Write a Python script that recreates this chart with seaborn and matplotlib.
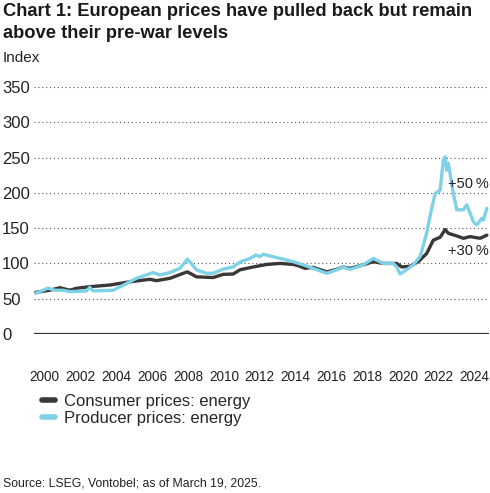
import numpy as np
import pandas as pd
import matplotlib
matplotlib.use("Agg")
import matplotlib.pyplot as plt
import seaborn as sns
from matplotlib.lines import Line2D

# ---- data ----
cons_t = [2000.0, 2000.78, 2001.34, 2001.9, 2002.27, 2003.0, 2004.13, 2005.25, 2006.37, 2006.74,
          2007.5, 2008.23, 2008.47, 2008.97, 2009.9, 2010.46, 2011.02, 2011.4, 2012.14, 2012.89,
          2013.63, 2014.37, 2014.75, 2015.02, 2015.49, 2016.24, 2016.8, 2017.16, 2017.54, 2018.28,
          2018.84, 2019.4, 2020.15, 2020.43, 2020.89, 2021.35, 2021.82, 2022.19, 2022.57, 2022.85,
          2023.03, 2023.5, 2023.87, 2024.25, 2024.8, 2025.18]
cons_v = [59, 62, 65.6, 62, 64.7, 67, 69.4, 74, 77.5, 75.6,
          79, 86, 88, 81, 80, 84.5, 85, 91, 95, 98.6,
          100, 98.6, 96, 93, 94.5, 88, 91.7, 95, 93, 98,
          102.5, 100, 100, 95, 96, 102.5, 114, 133, 137, 148,
          142.7, 139, 135.6, 138, 135.6, 140]

prod_t = [2000.0, 2000.68, 2001.06, 2001.5, 2001.9, 2002.83, 2003.01, 2003.2, 2004.32, 2004.87,
          2005.62, 2006.55, 2006.92, 2007.48, 2008.04, 2008.47, 2008.97, 2009.53, 2009.9, 2010.46,
          2011.02, 2011.4, 2011.95, 2012.29, 2012.51, 2012.7, 2013.25, 2013.81, 2014.37, 2014.93,
          2015.49, 2016.24, 2016.8, 2017.16, 2017.54, 2018.28, 2018.84, 2019.4, 2019.96, 2020.15,
          2020.33, 2020.7, 2021.07, 2021.45, 2021.82, 2022.0, 2022.29, 2022.57, 2022.75, 2022.85,
          2022.94, 2023.03, 2023.31, 2023.5, 2023.87, 2024.06, 2024.43, 2024.62, 2024.9, 2024.99,
          2025.18]
prod_v = [57.6, 65, 62, 62, 60, 61, 66, 61, 62, 69,
          79, 87, 83.6, 87, 93, 106, 91, 86, 86, 92,
          95, 102, 107, 112, 109.5, 113, 109.5, 106, 102.5, 98,
          93, 86, 91, 95, 91.5, 98, 107, 100, 100, 95,
          85, 91, 98, 109.5, 142.7, 166, 199, 204, 246, 251,
          232, 242, 199, 176, 176, 183, 159, 154.5, 164, 161.5,
          178]

series_names = ["Consumer prices: energy", "Producer prices: energy"]
colors = ["#3a3734", "#7ed2e8"]
year_labels = list(range(2000, 2025, 2))
y_ticks = [0, 50, 100, 150, 200, 250, 300, 350]
annotations = ["+50\u2009%", "+30\u2009%"]
ann_values = [213, 118]

df = pd.concat([
    pd.DataFrame({"t": cons_t, "v": cons_v, "series": series_names[0]}),
    pd.DataFrame({"t": prod_t, "v": prod_v, "series": series_names[1]}),
])

sns.set_theme(style="white")
plt.rcParams["font.family"] = ["Liberation Sans", "DejaVu Sans"]

fig = plt.figure(figsize=(4.9, 4.93), dpi=100)
ax = fig.add_axes([34 / 490, (493 - 334) / 493, (489 - 34) / 490, (334 - 87) / 493])

sns.lineplot(data=df, x="t", y="v", hue="series", palette=colors, ax=ax,
             linewidth=2.4, legend=False, sort=False)

ax.set_xlim(1999.9, 2025.3)
ax.set_ylim(0, 350)
ax.set_yticks(y_ticks)
ax.set_yticklabels([str(v) for v in y_ticks], fontsize=12, color="#222222", ha="left")
ax.tick_params(axis="y", length=0, pad=23)
ax.set_xticks([y + 0.5 for y in year_labels])
ax.set_xticklabels([str(y) for y in year_labels], fontsize=9.8, color="#222222")
ax.tick_params(axis="x", length=0, pad=26)
for s in ["top", "right", "left", "bottom"]:
    ax.spines[s].set_visible(False)
ax.set_xlabel("")
ax.set_ylabel("")
for yv in y_ticks[1:]:
    ax.axhline(yv, color="#555555", linewidth=0.8, linestyle=(0, (1, 2.5)), zorder=0)
ax.axhline(0, color="#333333", linewidth=1.6, zorder=1)

for txt, yv in zip(annotations, ann_values):
    ax.text(2025.3, yv, txt, ha="right", va="center", fontsize=10.5, color="#222222")

# legend
handles = [Line2D([0], [0], color=c, linewidth=4) for c in colors]
fig.legend(handles, series_names, loc="upper left", bbox_to_anchor=(37 / 490, 1 - 389 / 493),
           frameon=False, fontsize=12, handlelength=0.75, handletextpad=0.6,
           labelspacing=0.1, borderaxespad=0, borderpad=0.3)

fig.text(3 / 490, 1 - 12 / 493, "Chart 1: European prices have pulled back but remain",
         fontsize=13.2, fontweight="bold", va="center", ha="left", color="#1a1a1a")
fig.text(3 / 490, 1 - 33 / 493, "above their pre-war levels",
         fontsize=13.2, fontweight="bold", va="center", ha="left", color="#1a1a1a")
fig.text(3 / 490, 1 - 58 / 493, "Index", fontsize=11, va="center", ha="left", color="#222222")
fig.text(3 / 490, 1 - 484 / 493, "Source: LSEG, Vontobel; as of March 19, 2025.",
         fontsize=8.8, va="center", ha="left", color="#222222")

fig.savefig("out.png", dpi=100)
